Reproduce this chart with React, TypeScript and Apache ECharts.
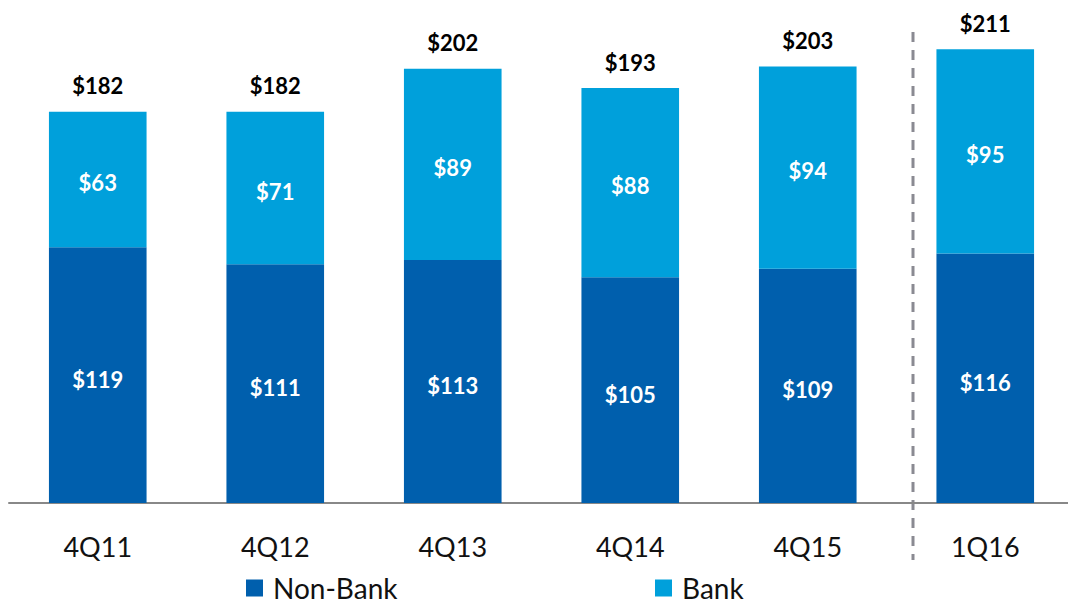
import React, { useEffect, useRef } from "react";
import * as echarts from "echarts";

const categories = ["4Q11", "4Q12", "4Q13", "4Q14", "4Q15", "1Q16"];
const nonBank = [119, 111, 113, 105, 109, 116];
const bank = [63, 71, 89, 88, 94, 95];
const totals = [182, 182, 202, 193, 203, 211];

const FONT = "Lato, 'Open Sans', sans-serif";

export default function App() {
  const ref = useRef<HTMLDivElement>(null);
  useEffect(() => {
    if (!ref.current) return;
    const chart = echarts.init(ref.current, undefined, { renderer: "svg" });
    const legendText = {
      fontSize: 28,
      color: "#111",
      fontFamily: FONT,
      lineHeight: 28,
      padding: [0, 0, 0, 5],
    };
    chart.setOption({
      animation: false,
      textStyle: { fontFamily: FONT },
      grid: { left: 9, right: 0, top: 30, bottom: 105 },
      legend: [
        {
          data: ["Non-Bank"],
          left: 246,
          top: 574,
          itemWidth: 17,
          itemHeight: 17,
          icon: "rect",
          padding: 0,
          textStyle: legendText,
        },
        {
          data: ["Bank"],
          left: 655,
          top: 574,
          itemWidth: 17,
          itemHeight: 17,
          icon: "rect",
          padding: 0,
          textStyle: legendText,
        },
      ],
      xAxis: {
        type: "category",
        data: categories,
        axisLine: { lineStyle: { color: "#888888", width: 2 } },
        axisTick: { show: false },
        axisLabel: { fontSize: 27, color: "#111", margin: 30, fontFamily: FONT },
      },
      yAxis: {
        type: "value",
        min: 0,
        max: 220,
        show: false,
        splitLine: { show: false },
      },
      series: [
        {
          name: "Non-Bank",
          type: "bar",
          stack: "t",
          data: nonBank,
          barWidth: "55%",
          itemStyle: { color: "#005FAD" },
          label: {
            show: true,
            position: "inside",
            formatter: (p: any) => "$" + p.value,
            color: "#fff",
            fontSize: 22,
            fontWeight: "bold",
            fontFamily: FONT,
            offset: [0, 4],
          },
        },
        {
          name: "Bank",
          type: "bar",
          stack: "t",
          data: bank,
          barWidth: "55%",
          itemStyle: { color: "#00A0DB" },
          label: {
            show: true,
            position: "inside",
            formatter: (p: any) => "$" + p.value,
            color: "#fff",
            fontSize: 22,
            fontWeight: "bold",
            fontFamily: FONT,
            offset: [0, 3],
          },
        },
        {
          name: "Total",
          type: "bar",
          stack: "t",
          data: totals.map(() => 0),
          barWidth: "55%",
          itemStyle: { color: "transparent" },
          label: {
            show: true,
            position: "top",
            distance: 15,
            formatter: (p: any) => "$" + totals[p.dataIndex],
            color: "#000",
            fontSize: 22,
            fontWeight: "bold",
            fontFamily: FONT,
          },
        },
      ],
      graphic: [
        {
          type: "line",
          shape: { x1: 913, y1: 32, x2: 913, y2: 560 },
          style: { stroke: "#8a8a92", lineWidth: 3, lineDash: [10, 8] },
          silent: true,
        },
      ],
    });
    return () => chart.dispose();
  }, []);
  return (
    <div style={{ position: "absolute", left: 0, top: 0, width: 1068, height: 608, overflow: "hidden" }}>
      <div ref={ref} style={{ width: 1074, height: 608 }} />
    </div>
  );
}
